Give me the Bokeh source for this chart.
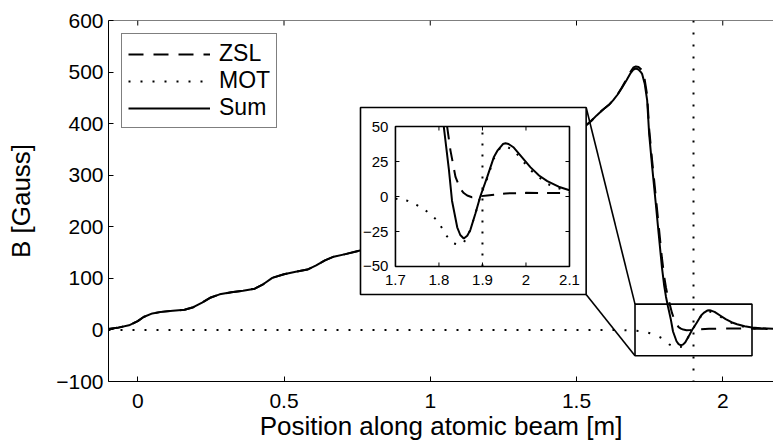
import math
from bokeh.plotting import figure
from bokeh.models import (Range1d, FixedTicker, Span, Legend, LegendItem,
                          CustomJSTickFormatter)
from bokeh.embed import file_html
from bokeh.resources import INLINE
from bokeh.core.properties import value

FONT = "Liberation Sans"

# ---------------- data ----------------
# staircase region where the MOT field is zero (ZSL == Sum)
stair_x = [-0.10, -0.07, -0.03, 0.00, 0.02, 0.05, 0.08, 0.12, 0.16, 0.19, 0.22, 0.25,
           0.28, 0.32, 0.36, 0.40, 0.43, 0.46, 0.50, 0.54, 0.58, 0.61, 0.64, 0.67,
           0.71, 0.76, 0.80, 0.85, 0.90, 0.95, 1.00, 1.05, 1.10, 1.15, 1.20, 1.25,
           1.30, 1.35, 1.40, 1.45, 1.50, 1.531, 1.55, 1.569, 1.59, 1.61, 1.625, 1.64]
stair_b = [2, 4, 9, 17, 25, 32, 35, 37, 39, 44, 53, 63,
           69, 73, 76, 80, 89, 101, 108, 113, 117, 125, 135, 142,
           147, 154, 158, 166, 182, 195, 203, 215, 232, 242, 252, 270,
           285, 298, 318, 342, 378, 396, 405, 416, 427, 436, 445, 456]

sum_tail_x = [1.655, 1.671, 1.685, 1.695, 1.703, 1.712, 1.720, 1.7246, 1.733, 1.7416,
              1.7484, 1.7587, 1.770, 1.781, 1.792, 1.800, 1.806, 1.8126, 1.8226, 1.830,
              1.842, 1.849, 1.857, 1.865, 1.872, 1.884, 1.895, 1.911, 1.926, 1.935,
              1.947, 1.953, 1.960, 1.972, 1.991, 2.010, 2.030, 2.049, 2.075, 2.100,
              2.130, 2.175]
sum_tail_b = [469, 484, 498, 505, 507, 505, 500, 496, 478, 445,
              380, 316, 251, 186, 122, 85, 64, 46, 20, -3,
              -22, -27.5, -30, -28, -24, -12, 0, 14, 28, 33,
              37.5, 38, 37.5, 35, 28, 21, 15, 11, 7, 4.5,
              3.2, 2.3]

zsl_tail_x = [1.655, 1.671, 1.685, 1.695, 1.703, 1.712, 1.720, 1.7246, 1.733, 1.7416,
              1.7484, 1.7587, 1.770, 1.781, 1.792, 1.800, 1.806, 1.8125, 1.8188, 1.8264,
              1.838, 1.849, 1.857, 1.865, 1.876, 1.890, 1.911, 1.953, 2.000, 2.100, 2.175]
zsl_tail_b = [470, 486, 501, 509, 511, 510, 506, 503, 486, 455,
              390, 328, 265, 202, 140, 103, 82, 64, 50, 33,
              14, 5.5, 2.5, 0.7, -0.5, 0, 0.8, 2.2, 2.6, 2.5, 2]

mot_x = [-0.10, 1.62, 1.66, 1.70, 1.727, 1.751, 1.774, 1.796, 1.810, 1.817, 1.834,
         1.845, 1.857, 1.872, 1.884, 1.895, 1.911, 1.926, 1.941, 1.953, 1.972, 1.991,
         2.010, 2.049, 2.100, 2.175]
mot_b = [0, 0, -0.5, -1.5, -3, -6.4, -11, -17, -24, -28, -33.5,
         -34.5, -33, -24, -12, 0, 13, 27, 35, 36, 33, 26,
         19, 9, 3, 1]

mot_center = 1.9          # position of the MOT (vertical dotted marker)

labels = ["ZSL", "MOT", "Sum"]
x_ticks = [0, 0.5, 1, 1.5, 2]
y_ticks = [-100, 0, 100, 200, 300, 400, 500, 600]
inset_x_ticks = [1.7, 1.8, 1.9, 2.0, 2.1]
inset_x_labels = ["1.7", "1.8", "1.9", "2", "2.1"]
inset_y_ticks = [-50, -25, 0, 25, 50]
inset_y_labels = ["\u221250", "\u221225", "0", "25", "50"]

# ---------------- layout constants ----------------
X_RANGE = (-0.1, 2.1735)
Y_RANGE = (-100, 600)
INSET_X = (1.7, 2.1)            # zoomed window (data units)
INSET_Y = (-50, 50)
INSET_BOX = (0.7615, 1.533, 68.7, 431.3)    # white panel in main data coords (l, r, b, t)
INSET_FRAME = (0.881, 1.476, 123.0, 394.4)  # inset axes frame in main data coords

sum_x = stair_x + sum_tail_x
sum_b = stair_b + sum_tail_b
zsl_x = stair_x + zsl_tail_x
zsl_b = stair_b + zsl_tail_b


def clip(xs, ys, x0, x1, y0, y1):
    """Clip a polyline to a rectangle (Liang-Barsky); breaks become NaN."""
    ox, oy = [], []
    last = None
    for i in range(len(xs) - 1):
        ax, ay, bx, by = xs[i], ys[i], xs[i + 1], ys[i + 1]
        dx, dy = bx - ax, by - ay
        t0, t1 = 0.0, 1.0
        ok = True
        for pp, qq in ((-dx, ax - x0), (dx, x1 - ax), (-dy, ay - y0), (dy, y1 - ay)):
            if pp == 0:
                if qq < 0:
                    ok = False
                    break
            else:
                r = qq / pp
                if pp < 0:
                    t0 = max(t0, r)
                else:
                    t1 = min(t1, r)
        if not ok or t0 > t1:
            continue
        sx, sy = ax + t0 * dx, ay + t0 * dy
        ex, ey = ax + t1 * dx, ay + t1 * dy
        if last is None or abs(last[0] - sx) > 1e-12 or abs(last[1] - sy) > 1e-12:
            if ox:
                ox.append(float("nan")); oy.append(float("nan"))
            ox.append(sx); oy.append(sy)
        ox.append(ex); oy.append(ey)
        last = (ex, ey)
    return ox, oy


p = figure(width=773, height=444, x_range=Range1d(*X_RANGE), y_range=Range1d(*Y_RANGE),
           output_backend="svg", toolbar_location=None,
           min_border_left=108, min_border_right=0, min_border_top=20, min_border_bottom=63)
p.outline_line_color = None
p.grid.visible = False
p.background_fill_color = "white"
p.border_fill_color = "white"

fmt = CustomJSTickFormatter(code="return tick < 0 ? '\\u2212' + Math.abs(tick) : String(tick);")

for ax in (p.xaxis[0], p.yaxis[0]):
    ax.formatter = fmt
    ax.major_tick_in = 5
    ax.major_tick_out = 0
    ax.minor_tick_line_color = None
    ax.axis_line_color = "black"
    ax.axis_line_width = 1
    ax.major_tick_line_color = "black"
    ax.major_label_text_font = FONT
    ax.major_label_text_font_size = "21px"
    ax.major_label_text_color = "black"
    ax.axis_label_text_font = FONT
    ax.axis_label_text_font_size = "26px"
    ax.axis_label_text_font_style = "normal"
    ax.axis_label_text_color = "black"

p.xaxis.ticker = FixedTicker(ticks=x_ticks, minor_ticks=[])
p.yaxis.ticker = FixedTicker(ticks=y_ticks, minor_ticks=[])
p.xaxis.axis_label = "Position along atomic beam [m]"
p.yaxis.axis_label = "B [Gauss]"
p.xaxis.major_label_standoff = 12
p.xaxis.axis_label_standoff = 0
p.yaxis.major_label_standoff = 5
p.yaxis.axis_label_standoff = 17

# top border of the frame with inward ticks
p.add_layout(Span(location=Y_RANGE[1], dimension="width", line_color="black", line_width=1))
p.ray(x=x_ticks, y=[Y_RANGE[1]] * len(x_ticks), length=5, length_units="screen",
      angle=-math.pi / 2, line_color="black", line_width=1)

# ---------------- main curves ----------------
r_zsl = p.line(zsl_x, zsl_b, line_color="black", line_width=2, line_dash="15 10")
r_mot = p.line(mot_x, mot_b, line_color="black", line_width=2, line_dash="2 10")
r_sum = p.line(sum_x, sum_b, line_color="black", line_width=2)

p.add_layout(Span(location=mot_center, dimension="height", line_color="black",
                  line_width=2, line_dash="2 10"))

# zoom rectangle
p.quad(left=INSET_X[0], right=INSET_X[1], bottom=INSET_Y[0], top=INSET_Y[1],
       fill_color=None, line_color="black", line_width=1.6)

# connectors
l, r, b, t = INSET_BOX
p.segment(x0=[r, r], y0=[t, b], x1=[INSET_X[0], INSET_X[0]], y1=[INSET_Y[1], INSET_Y[0]],
          line_color="black", line_width=1.6)

# white inset panel
p.quad(left=l, right=r, bottom=b, top=t, fill_color="white", line_color="black",
       line_width=1.6)

# ---------------- inset ----------------
fl, fr, fb, ft = INSET_FRAME
ins = p.subplot(x_source=Range1d(*INSET_X), y_source=Range1d(*INSET_Y),
                x_target=Range1d(fl, fr), y_target=Range1d(fb, ft))

zx, zy = clip(zsl_x, zsl_b, INSET_X[0], INSET_X[1], INSET_Y[0], INSET_Y[1])
mx, my = clip(mot_x, mot_b, INSET_X[0], INSET_X[1], INSET_Y[0], INSET_Y[1])
sx, sy = clip(sum_x, sum_b, INSET_X[0], INSET_X[1], INSET_Y[0], INSET_Y[1])
ins.line(zx, zy, line_color="black", line_width=2, line_dash="13 9")
ins.line(mx, my, line_color="black", line_width=2, line_dash="2 9")
ins.line(sx, sy, line_color="black", line_width=2)
ins.segment(x0=[mot_center], y0=[INSET_Y[0]], x1=[mot_center], y1=[INSET_Y[1]],
            line_color="black", line_width=2, line_dash="2 9")

ins.quad(left=INSET_X[0], right=INSET_X[1], bottom=INSET_Y[0], top=INSET_Y[1],
         fill_color=None, line_color="black", line_width=1.6)

inner_x = inset_x_ticks[1:-1]
inner_y = inset_y_ticks[1:-1]
ins.ray(x=inner_x, y=[INSET_Y[0]] * len(inner_x), length=4, length_units="screen",
        angle=math.pi / 2, line_color="black", line_width=1)
ins.ray(x=inner_x, y=[INSET_Y[1]] * len(inner_x), length=4, length_units="screen",
        angle=-math.pi / 2, line_color="black", line_width=1)
ins.ray(x=[INSET_X[0]] * len(inner_y), y=inner_y, length=4, length_units="screen",
        angle=0, line_color="black", line_width=1)
ins.ray(x=[INSET_X[1]] * len(inner_y), y=inner_y, length=4, length_units="screen",
        angle=math.pi, line_color="black", line_width=1)

ins.text(x=inset_x_ticks, y=[INSET_Y[0]] * len(inset_x_ticks), text=inset_x_labels,
         text_align="center", text_baseline="top", y_offset=9,
         text_font=value(FONT), text_font_size="15px", text_color="black")
ins.text(x=[INSET_X[0]] * len(inset_y_ticks), y=inset_y_ticks, text=inset_y_labels,
         text_align="right", text_baseline="middle", x_offset=-7,
         text_font=value(FONT), text_font_size="15px", text_color="black")

# ---------------- legend ----------------
legend = Legend(items=[LegendItem(label=labels[0], renderers=[r_zsl]),
                       LegendItem(label=labels[1], renderers=[r_mot]),
                       LegendItem(label=labels[2], renderers=[r_sum])],
                location="top_left", margin=13, padding=6, spacing=0,
                glyph_width=82, glyph_height=24, label_height=24, label_standoff=9,
                label_text_font=FONT, label_text_font_size="23px",
                label_text_color="black",
                border_line_color="black", border_line_width=1.3,
                background_fill_color="white", background_fill_alpha=1.0)
p.add_layout(legend)

open("out.html", "w").write(file_html(p, INLINE))
